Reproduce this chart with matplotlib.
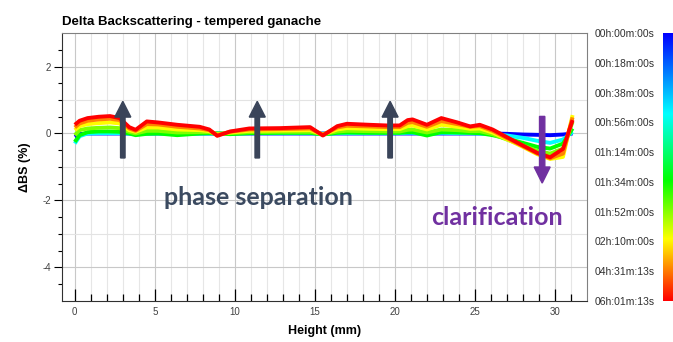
import matplotlib
matplotlib.use("Agg")
import matplotlib.pyplot as plt
from matplotlib.colors import LinearSegmentedColormap
import numpy as np

plt.rcParams["font.family"] = ["Liberation Sans", "DejaVu Sans"]
plt.rcParams["axes.unicode_minus"] = False

# heights (mm) where the profiles were read
heights = [0.0, 0.3, 0.8, 1.5, 2.2, 2.8, 3.4, 3.8, 4.5, 5.2, 6.4, 7.8, 8.4, 8.9,
           9.7, 10.9, 12.8, 14.7, 15.5, 16.4, 17.0, 18.4, 19.5, 20.3, 20.8, 21.1,
           22.0, 22.9, 23.9, 24.7, 25.3, 26.1, 27.0, 28.0, 28.9, 29.7, 30.5, 31.1]

# delta BS profiles (%), first scan to last scan
bs_blue = [-0.10, -0.02, 0.0, 0.0, 0.0, 0.0, 0.0, 0.0, 0.0, 0.0, 0.0, 0.0, 0.0, 0.0,
           0.0, 0.0, 0.0, 0.0, 0.0, 0.0, 0.0, 0.0, 0.0, 0.0, 0.0, 0.0,
           0.0, 0.0, 0.0, 0.0, 0.0, 0.0, -0.01, -0.03, -0.04, -0.05, -0.03, 0.0]
bs_cyan = [-0.30, -0.08, 0.0, 0.01, 0.01, 0.01, 0.0, -0.01, 0.0, 0.0, -0.01, 0.0, 0.0, 0.0,
           0.0, 0.01, 0.01, 0.01, -0.01, 0.01, 0.01, 0.01, 0.01, 0.01, 0.02, 0.02,
           -0.02, 0.02, 0.01, 0.01, 0.0, -0.02, -0.06, -0.13, -0.22, -0.28, -0.18, 0.05]
bs_green = [-0.25, -0.05, 0.04, 0.06, 0.06, 0.05, 0.0, -0.05, -0.01, 0.0, -0.05, 0.0, 0.01, 0.0,
            -0.02, 0.01, 0.02, 0.02, -0.03, 0.02, 0.03, 0.02, 0.02, 0.02, 0.04, 0.04,
            -0.06, 0.04, 0.03, 0.02, 0.01, -0.05, -0.15, -0.28, -0.40, -0.45, -0.30, 0.15]
bs_lime = [-0.05, 0.10, 0.15, 0.17, 0.18, 0.16, 0.05, 0.0, 0.08, 0.08, 0.03, 0.04, 0.04, -0.01,
           0.01, 0.04, 0.05, 0.05, -0.02, 0.06, 0.08, 0.07, 0.06, 0.06, 0.11, 0.12,
           0.03, 0.12, 0.10, 0.07, 0.07, -0.02, -0.18, -0.36, -0.52, -0.60, -0.45, 0.35]
bs_yellow = [0.10, 0.22, 0.28, 0.31, 0.33, 0.30, 0.10, 0.05, 0.18, 0.18, 0.12, 0.10, 0.07, -0.03,
             0.03, 0.08, 0.09, 0.10, -0.03, 0.12, 0.16, 0.14, 0.13, 0.13, 0.22, 0.24,
             0.12, 0.26, 0.20, 0.14, 0.15, 0.03, -0.17, -0.40, -0.62, -0.76, -0.70, 0.55]
bs_orange = [0.18, 0.30, 0.38, 0.42, 0.44, 0.40, 0.15, 0.08, 0.28, 0.27, 0.20, 0.15, 0.10, -0.05,
             0.05, 0.12, 0.13, 0.15, -0.04, 0.18, 0.23, 0.21, 0.19, 0.19, 0.32, 0.34,
             0.20, 0.37, 0.28, 0.20, 0.22, 0.08, -0.14, -0.38, -0.60, -0.74, -0.60, 0.48]
bs_red = [0.26, 0.38, 0.46, 0.50, 0.52, 0.46, 0.19, 0.11, 0.36, 0.33, 0.26, 0.20, 0.12, -0.07,
          0.06, 0.15, 0.16, 0.19, -0.06, 0.22, 0.29, 0.26, 0.24, 0.24, 0.40, 0.42,
          0.26, 0.46, 0.33, 0.21, 0.26, 0.12, -0.11, -0.36, -0.58, -0.71, -0.46, 0.40]

profiles = [bs_blue, bs_cyan, bs_green, bs_lime, bs_yellow, bs_orange, bs_red]
scan_pos = [0.0, 0.3, 0.55, 0.66, 0.77, 0.88, 1.0]

time_labels = ["00h:00m:00s", "00h:18m:00s", "00h:38m:00s", "00h:56m:00s",
               "01h:14m:00s", "01h:34m:00s", "01h:52m:00s", "02h:10m:00s",
               "04h:31m:13s", "06h:01m:13s"]

arrow_up_x = [3.0, 11.4, 19.7]

cmap = LinearSegmentedColormap.from_list(
    "scan", [(0.0, "#0000ff"), (0.3, "#00ffff"), (0.55, "#00ff00"),
             (0.77, "#ffff00"), (1.0, "#ff0000")])

fig = plt.figure(figsize=(6.73, 3.42), dpi=100)
ax = fig.add_axes([0.0921, 0.1199, 0.7801, 0.7836])

for prof, t in zip(profiles, scan_pos):
    ax.plot(heights, prof, color=cmap(t), lw=2.8, solid_capstyle="butt", zorder=3)

ax.set_xlim(-0.8, 32)
ax.set_ylim(-5, 3)

ax.set_xticks(range(0, 35, 5))
ax.set_xticks(range(0, 32), minor=True)
ax.set_yticks([-4, -2, 0, 2])
ax.set_yticks(np.arange(-4.5, 3.0, 0.5), minor=True)

# grid: integer heights / integer %, every 5th mm and even % darker
for xv in range(0, 32):
    ax.axvline(xv, color="#c8c8c8" if xv % 5 == 0 else "#e6e6e6", lw=0.8, zorder=0)
for yv in range(-4, 3):
    ax.axhline(yv, color="#c8c8c8" if yv % 2 == 0 else "#e3e3e3", lw=0.8, zorder=0)

ax.tick_params(axis="x", which="major", direction="in", length=9, width=0.9,
               labelsize=7, labelcolor="#404040", pad=4)
ax.tick_params(axis="x", which="minor", direction="in", length=5, width=0.9)
ax.tick_params(axis="y", which="major", direction="out", length=6, width=0.8,
               labelsize=7, labelcolor="#404040", pad=2)
ax.tick_params(axis="y", which="minor", direction="out", length=3, width=0.8)

for side in ["top", "right"]:
    ax.spines[side].set_color("#808080")
ax.spines["left"].set_color("#303030")
ax.spines["bottom"].set_color("#303030")

ax.set_title("Delta Backscattering - tempered ganache", loc="left", fontsize=9.5,
             fontweight="bold", pad=6)
ax.set_xlabel("Height (mm)", fontsize=9, fontweight="bold", labelpad=6)
ax.set_ylabel("ΔBS (%)", fontsize=9, fontweight="bold", labelpad=8)

for xa in arrow_up_x:
    ax.arrow(xa, -0.73, 0, 1.69, width=0.28, head_width=1.0, head_length=0.47,
             length_includes_head=True, color="#3a4459", zorder=5)
ax.arrow(29.2, 0.51, 0, -1.99, width=0.33, head_width=1.0, head_length=0.48,
         length_includes_head=True, color="#7030a0", zorder=5)

ax.text(11.5, -1.91, "phase separation", color="#3b4a60", fontsize=18,
        fontweight="bold", family="Lato", ha="center", va="center", zorder=6)
ax.text(26.4, -2.51, "clarification", color="#7030a0", fontsize=18,
        fontweight="bold", family="Lato", ha="center", va="center", zorder=6)

# colour scale of the scans
cax = fig.add_axes([0.9851, 0.1199, 0.0149, 0.7836])
cax.imshow(np.linspace(0, 1, 256).reshape(-1, 1), aspect="auto", cmap=cmap,
           extent=[0, 1, 1, 0])
cax.set_xticks([])
cax.set_ylim(1, 0)
cax.set_yticks(np.linspace(0, 1, len(time_labels)))
cax.set_yticklabels(time_labels, fontsize=7.5, color="#303030")
cax.tick_params(axis="y", length=0, pad=6)
for s in cax.spines.values():
    s.set_visible(False)

fig.savefig("out.png", dpi=100)
